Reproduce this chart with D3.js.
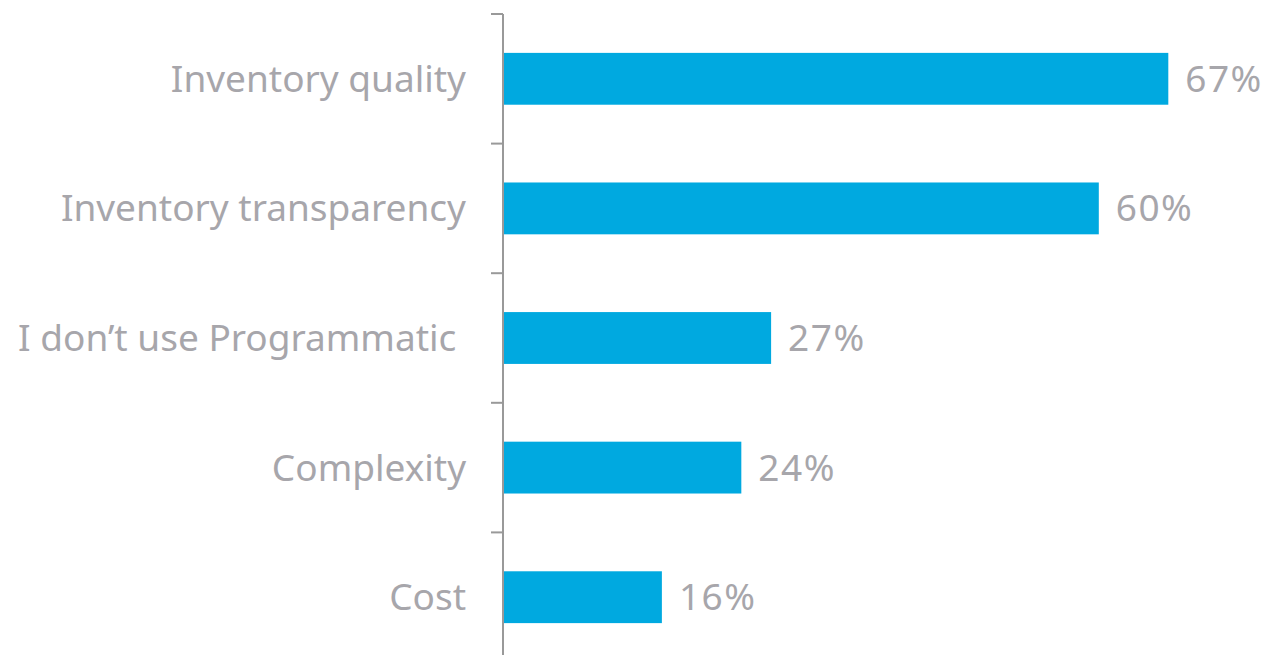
<!DOCTYPE html>
<html>
<head>
<meta charset="utf-8">
<script src="https://cdn.jsdelivr.net/npm/d3@7"></script>
<style>
  html, body { margin: 0; padding: 0; background: #fff; }
  svg { display: block; }
  text { font-family: "Noto Sans", sans-serif; fill: #a7a6ab; white-space: pre; }
</style>
</head>
<body>
<svg id="chart" width="1276" height="655"></svg>
<script>
// Reasons for not using programmatic buying (share of respondents)
const categories = ["Inventory quality", "Inventory transparency", "I don\u2019t use Programmatic ", "Complexity", "Cost"];
const values = [67, 60, 27, 24, 16];
const valueLabels = ["67%", "60%", "27%", "24%", "16%"];

const svg = d3.select("#chart");
const axisX = 503;

const x = d3.scaleLinear().domain([0, 100]).range([axisX, axisX + 993]);
const y = d3.scaleBand().domain(categories).range([14, 662]).paddingInner(0.6).paddingOuter(0.3);

// Bars
svg.selectAll("rect.bar")
  .data(values)
  .join("rect")
  .attr("class", "bar")
  .attr("x", x(0))
  .attr("y", (d, i) => y(categories[i]))
  .attr("width", d => x(d) - x(0))
  .attr("height", y.bandwidth())
  .attr("fill", "#00a9e0");

// Value labels
svg.selectAll("text.value")
  .data(values)
  .join("text")
  .attr("class", "value")
  .attr("x", d => x(d) + 17)
  .attr("y", (d, i) => y(categories[i]) + y.bandwidth() / 2)
  .attr("dy", "0.35em")
  .attr("font-size", 37)
  .attr("letter-spacing", 1.5)
  .text((d, i) => valueLabels[i]);

// Category axis with boundary ticks between bands
const step = y.step();
const tickYs = d3.range(categories.length + 1).map(i => 14 + i * step);
const axisG = svg.append("g");
axisG.append("line")
  .attr("x1", axisX).attr("x2", axisX)
  .attr("y1", 14).attr("y2", 655)
  .attr("stroke", "#999").attr("stroke-width", 2);
axisG.selectAll("line.tick")
  .data(tickYs)
  .join("line")
  .attr("class", "tick")
  .attr("x1", axisX - 12).attr("x2", axisX)
  .attr("y1", d => d).attr("y2", d => d)
  .attr("stroke", "#999").attr("stroke-width", 2);

svg.selectAll("text.cat")
  .data(categories)
  .join("text")
  .attr("class", "cat")
  .attr("x", axisX - 37)
  .attr("y", d => y(d) + y.bandwidth() / 2)
  .attr("dy", "0.35em")
  .attr("text-anchor", "end")
  .attr("font-size", 37)
  .text(d => d);
</script>
</body>
</html>
